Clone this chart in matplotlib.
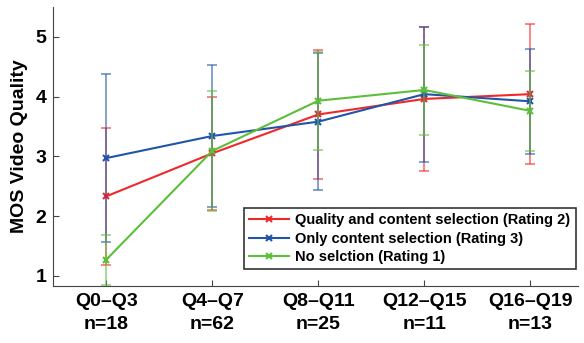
import numpy as np
import matplotlib.pyplot as plt

plt.rcParams['font.family'] = ['Liberation Sans', 'DejaVu Sans']
plt.rcParams['font.weight'] = 'bold'

groups = ['Q0–Q3\nn=18', 'Q4–Q7\nn=62', 'Q8–Q11\nn=25', 'Q12–Q15\nn=11', 'Q16–Q19\nn=13']

quality_mean = [2.33, 3.05, 3.70, 3.96, 4.04]
quality_err = [1.15, 0.95, 1.08, 1.20, 1.17]
content_mean = [2.97, 3.34, 3.58, 4.04, 3.92]
content_err = [1.41, 1.18, 1.15, 1.13, 0.88]
none_mean = [1.27, 3.09, 3.93, 4.11, 3.76]
none_err = [0.42, 1.00, 0.82, 0.76, 0.67]

names = ['Quality and content selection (Rating 2)',
         'Only content selection (Rating 3)',
         'No selction (Rating 1)']
colors = ['#f0282a', '#2255a8', '#5cbf3a']

x = np.arange(1, len(groups) + 1)

fig = plt.figure(figsize=(5.84, 3.43), dpi=100)
ax = fig.add_axes([0.091, 0.166, 0.899, 0.814])

handles = []
for m, e, c, n in zip([quality_mean, content_mean, none_mean],
                      [quality_err, content_err, none_err], colors, names):
    ax.errorbar(x, m, yerr=e, fmt='none', ecolor=c, elinewidth=1.2,
                capsize=3.3, capthick=1.2, alpha=0.65)
    h, = ax.plot(x, m, '-x', color=c, lw=1.5, ms=5, mew=1.5, label=n)
    handles.append(h)

ax.set_xlim(0.5, 5.45)
ax.set_ylim(0.83, 5.5)
ax.set_xticks(x)
ax.set_xticklabels(groups, fontsize=14, fontweight='bold', linespacing=1.45)
ax.set_yticks([1, 2, 3, 4, 5])
ax.set_yticklabels(['1', '2', '3', '4', '5'], fontsize=14, fontweight='bold')
ax.tick_params(direction='in', length=4, width=0.8, color='#444444', pad=5)
ax.set_ylabel('MOS Video Quality', fontsize=14, fontweight='bold', labelpad=5)
for s in ['top', 'right']:
    ax.spines[s].set_visible(False)
for s in ['left', 'bottom']:
    ax.spines[s].set_color('#444444')

leg = ax.legend(handles=handles, loc='lower right', bbox_to_anchor=(0.995, 0.06),
                fontsize=10.5, frameon=True, fancybox=False, borderpad=0.35,
                handlelength=2.8, handletextpad=0.4, labelspacing=0.3,
                borderaxespad=0.0)
leg.get_frame().set_edgecolor('black')
leg.get_frame().set_linewidth(1.2)
for t in leg.get_texts():
    t.set_fontweight('bold')

plt.savefig('out.png', dpi=100)
